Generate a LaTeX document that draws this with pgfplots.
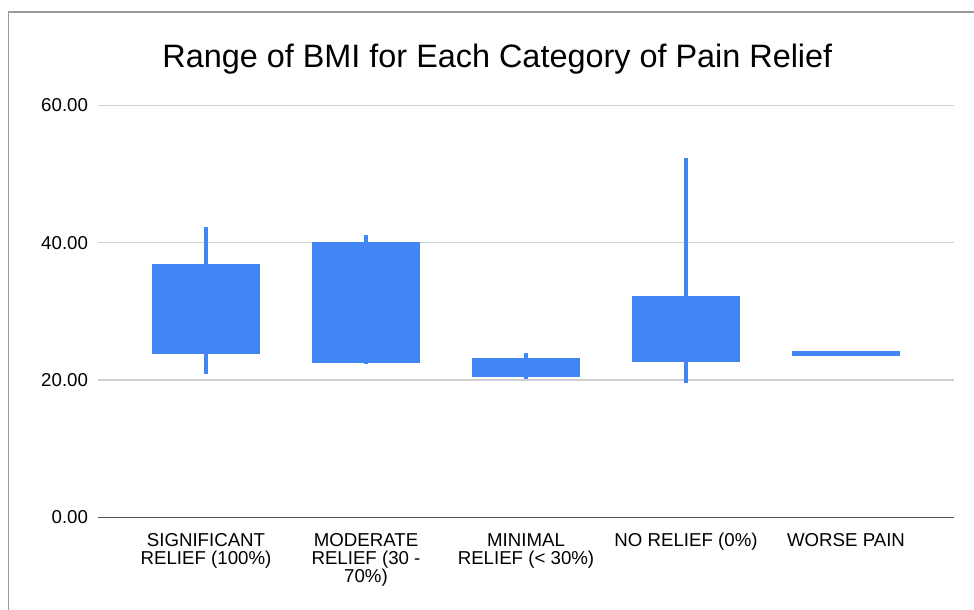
\documentclass[border=0pt]{standalone}
\usepackage{pgfplots}
\pgfplotsset{compat=1.18}
\usepgfplotslibrary{statistics}
\usepackage{fontspec}
\setmainfont{Liberation Sans}
\definecolor{gblue}{HTML}{4285F4}
\definecolor{gridgray}{HTML}{D0D0D0}
\definecolor{basegray}{HTML}{505050}
\definecolor{framegray}{HTML}{9A9A9A}
\begin{document}
\begin{tikzpicture}
\useasboundingbox (0,0) rectangle (730.5pt,457.5pt);
\draw[framegray, line width=1.2pt] (6.3pt,0) -- (6.3pt,448.5pt) -- (730.5pt,448.5pt);
\node[anchor=base, font=\fontsize{24.3}{28}\selectfont] at (373pt,407pt) {Range of BMI for Each Category of Pain Relief};
\begin{axis}[
  at={(73.5pt,69.5pt)}, anchor=south west,
  scale only axis, width=642pt, height=309pt,
  xmin=-0.675, xmax=4.675, ymin=0, ymax=60,
  axis line style={draw=none},
  ytick={0,20,40,60},
  /pgf/number format/fixed, /pgf/number format/fixed zerofill, /pgf/number format/precision=2, /pgf/number format/assume math mode=true,
  yticklabel style={font=\fontsize{14}{16}\selectfont, xshift=-4pt},
  ymajorgrids, grid style={gridgray, line width=1.1pt},
  extra y ticks={0}, extra y tick labels={},
  extra y tick style={grid style={basegray, line width=1.1pt}},
  major tick length=0pt,
  xtick={0,1,2,3,4},
  xticklabels={{\vphantom{(}SIGNIFICANT\\RELIEF (100\%)},{\vphantom{(}MODERATE\\RELIEF (30 -\\70\%)},{\vphantom{(}MINIMAL\\RELIEF (< 30\%)},{\vphantom{(}NO RELIEF (0\%)},{\vphantom{(}WORSE PAIN}},
  xticklabel style={align=center, font=\fontsize{14}{13.5}\selectfont, anchor=north, yshift=-8pt},
  clip=false,
  boxplot/draw direction=y,
  boxplot/box extend=0.67,
  boxplot/whisker extend=0,
]
% whiskers: low-high range (high/low), drawn behind the boxes
\addplot[draw=none, mark=none, forget plot,
  error bars/.cd, y dir=both, y explicit, error mark=none,
  error bar style={gblue, line width=2.3pt}]
  coordinates {
  (0,30) += (0,12.3) -= (0,9.1)
  (1,30) += (0,11.1) -= (0,7.6)
  (2,22) += (0,2.0) -= (0,1.8)
  (3,30) += (0,22.3) -= (0,10.5)
  (4,23.9) += (0,0) -= (0,0)
  };
% boxes: open/close range
\addplot[draw=gblue, fill=gblue, line width=0.3pt, boxplot prepared={draw position=0, lower whisker=23.9, lower quartile=23.9, median=23.9, upper quartile=36.9, upper whisker=36.9}] coordinates {};
\addplot[draw=gblue, fill=gblue, line width=0.3pt, boxplot prepared={draw position=1, lower whisker=22.6, lower quartile=22.6, median=22.6, upper quartile=40.0, upper whisker=40.0}] coordinates {};
\addplot[draw=gblue, fill=gblue, line width=0.3pt, boxplot prepared={draw position=2, lower whisker=20.6, lower quartile=20.6, median=20.6, upper quartile=23.2, upper whisker=23.2}] coordinates {};
\addplot[draw=gblue, fill=gblue, line width=0.3pt, boxplot prepared={draw position=3, lower whisker=22.8, lower quartile=22.8, median=22.8, upper quartile=32.2, upper whisker=32.2}] coordinates {};
\addplot[draw=gblue, fill=gblue, line width=0.3pt, boxplot prepared={draw position=4, lower whisker=23.65, lower quartile=23.65, median=23.65, upper quartile=24.15, upper whisker=24.15}] coordinates {};
\end{axis}
\end{tikzpicture}
\end{document}
